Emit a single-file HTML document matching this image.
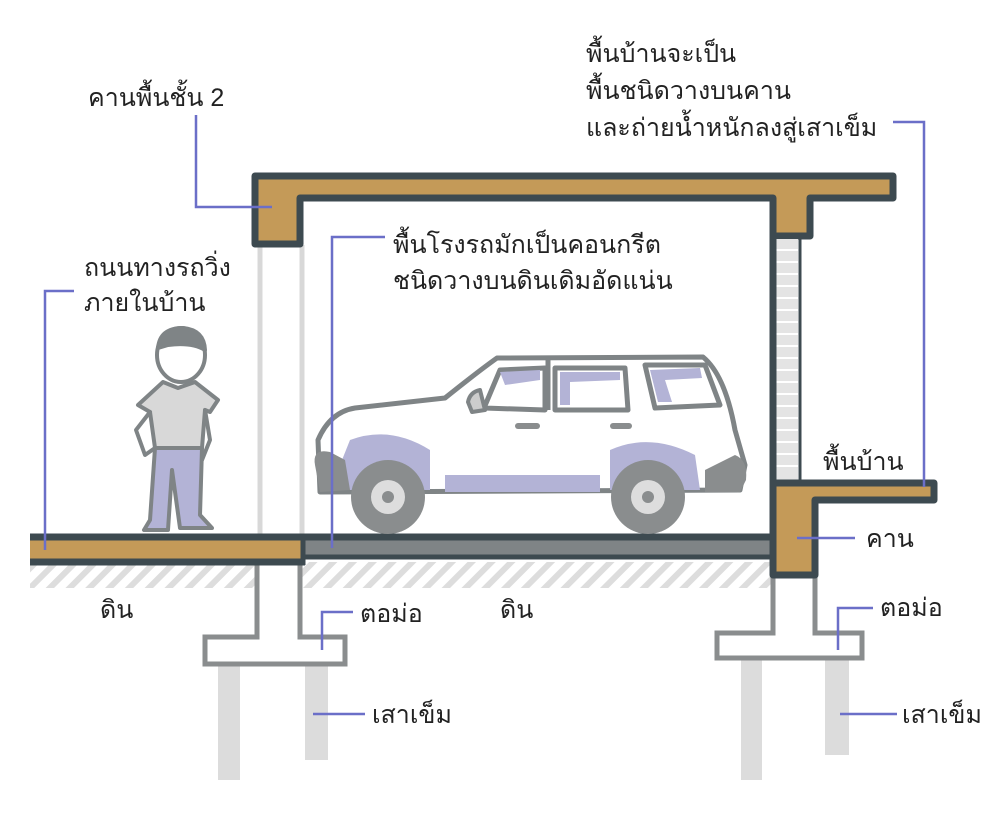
<!DOCTYPE html>
<html><head><meta charset="utf-8"><style>
html,body{margin:0;padding:0;background:#fff}
svg{display:block}
text{font-family:"Liberation Sans","Noto Sans CJK SC",sans-serif;font-size:25px;fill:#222}
</style></head><body>
<svg width="1000" height="820" viewBox="0 0 1000 820">
<defs>
<pattern id="h" width="14" height="14" patternUnits="userSpaceOnUse" patternTransform="rotate(45)">
<rect width="14" height="14" fill="#fff"/><rect width="6" height="14" fill="#ddd"/></pattern>
</defs>
<rect x="30" y="562" width="742" height="26" fill="url(#h)"/>
<g fill="#dcdcdc">
<rect x="218" y="665" width="22" height="115"/><rect x="305" y="665" width="23" height="95"/>
<rect x="741" y="660" width="21" height="120"/><rect x="825" y="660" width="24" height="95"/>
</g>
<g fill="#fff" stroke="#8a8d8e" stroke-width="5">
<path d="M257 562 V637 H205 V664 H345 V637 H300 V562"/>
<path d="M773 575 V633 H717 V658 H862 V633 H815 V575"/>
</g>
<g stroke="#d8d8d8" stroke-width="5"><line x1="260" y1="245" x2="260" y2="535"/><line x1="302" y1="245" x2="302" y2="535"/></g>
<rect x="30" y="537" width="275" height="24" fill="#c49a58"/>
<line x1="30" y1="537" x2="305" y2="537" stroke="#3d4a50" stroke-width="7"/>
<line x1="30" y1="562" x2="305" y2="562" stroke="#3d4a50" stroke-width="7"/>
<rect x="303" y="537" width="470" height="20" fill="#7f8486"/>
<line x1="303" y1="537" x2="773" y2="537" stroke="#3d4a50" stroke-width="7"/>
<line x1="303" y1="557" x2="773" y2="557" stroke="#3d4a50" stroke-width="5"/>
<line x1="303" y1="534" x2="303" y2="565" stroke="#3d4a50" stroke-width="5"/>
<path d="M255 176 H893 V198 H810 V236 H773 V198 H300 V244 H255 Z" fill="#c49a58" stroke="#3d4a50" stroke-width="7" stroke-linejoin="round"/>
<rect x="776" y="239" width="22" height="242" fill="#e4e4e4"/>
<g stroke="#fff" stroke-width="2">
<line x1="776" y1="250" x2="798" y2="250"/><line x1="776" y1="262" x2="798" y2="262"/><line x1="776" y1="274" x2="798" y2="274"/><line x1="776" y1="286" x2="798" y2="286"/><line x1="776" y1="298" x2="798" y2="298"/><line x1="776" y1="310" x2="798" y2="310"/><line x1="776" y1="322" x2="798" y2="322"/><line x1="776" y1="334" x2="798" y2="334"/><line x1="776" y1="346" x2="798" y2="346"/><line x1="776" y1="358" x2="798" y2="358"/><line x1="776" y1="370" x2="798" y2="370"/><line x1="776" y1="382" x2="798" y2="382"/><line x1="776" y1="394" x2="798" y2="394"/><line x1="776" y1="406" x2="798" y2="406"/><line x1="776" y1="418" x2="798" y2="418"/><line x1="776" y1="430" x2="798" y2="430"/><line x1="776" y1="442" x2="798" y2="442"/><line x1="776" y1="454" x2="798" y2="454"/><line x1="776" y1="466" x2="798" y2="466"/>
</g>
<line x1="773" y1="236" x2="773" y2="485" stroke="#3d4a50" stroke-width="7"/>
<line x1="800" y1="236" x2="800" y2="483" stroke="#3d4a50" stroke-width="3"/>
<path d="M773 483 H934 V500 H815 V575 H773 Z" fill="#c49a58" stroke="#3d4a50" stroke-width="7" stroke-linejoin="round"/>
<!-- person -->
<g stroke="#7f8486" stroke-width="4" stroke-linejoin="round" stroke-linecap="round">
<path d="M155 448 L150 520 L144 530 H168 L172 470 L180 528 H212 L200 515 L202 448 Z" fill="#b3b3d6"/>
<path d="M163 382 L178 388 L195 382 L218 400 L210 412 L205 410 L202 448 H155 L150 412 L138 405 Z" fill="#d8d8d8"/>
<path d="M150 412 L136 430 L145 455 L155 448 M205 410 L210 440 L202 460" fill="none"/>
<ellipse cx="181" cy="355" rx="24" ry="27" fill="#fff"/>
<path d="M158 348 Q160 328 183 328 Q204 330 205 350 Q192 342 168 345 Z" fill="#7f8486"/>
</g>
<!-- car -->
<g stroke-linejoin="round">
<path d="M318 440 Q330 412 355 408 L445 398 Q480 370 497 358 L703 357 Q725 375 735 430 L745 465 L740 490 L320 492 Z" fill="#fff" stroke="#7f8486" stroke-width="5"/>
<path d="M350 440 Q390 425 430 450 L430 490 L330 490 Z M445 475 H600 V492 H445 Z M610 450 Q650 432 695 455 L700 490 H610 Z" fill="#b3b3d6"/>
<path d="M484 408 L500 370 L545 368 L545 410 Z M555 368 L625 368 L628 410 L555 410 Z M645 365 L705 365 L720 405 L655 408 Z" fill="#fff" stroke="#7f8486" stroke-width="5"/>
<path d="M500 372 L540 370 L540 380 L505 385 Z M560 372 L620 372 L620 380 L570 382 L570 405 L560 405Z M650 370 L700 368 L702 378 L665 380 L672 402 L658 402 Z" fill="#b3b3d6"/>
<path d="M468 402 Q470 392 480 390 L485 410 L472 412 Z" fill="#ccc" stroke="#7f8486" stroke-width="4"/>
<line x1="548" y1="360" x2="548" y2="410" stroke="#7f8486" stroke-width="5"/>
<path d="M315 465 Q312 448 330 452 L345 460 L350 490 L320 492 Z" fill="#8a8d8e"/>
<path d="M705 470 L735 455 Q748 460 746 480 L740 492 L705 492 Z" fill="#8a8d8e"/>
<rect x="515" y="423" width="25" height="6" rx="3" fill="#8a8d8e"/><rect x="610" y="423" width="22" height="6" rx="3" fill="#8a8d8e"/>
<circle cx="388" cy="497" r="37" fill="#8a8d8e"/><circle cx="388" cy="497" r="17" fill="#ddd"/><circle cx="388" cy="497" r="6" fill="#8a8d8e"/>
<circle cx="648" cy="497" r="37" fill="#8a8d8e"/><circle cx="648" cy="497" r="17" fill="#ddd"/><circle cx="648" cy="497" r="6" fill="#8a8d8e"/>
</g>
<g fill="none" stroke="#6b6fc8" stroke-width="2.5">
<path d="M196 115 V207 H272"/>
<path d="M74 291 H45 V550"/>
<path d="M385 237 H332 V548"/>
<path d="M893 122 H924 V487"/>
<path d="M797 538 H855"/>
<path d="M873 608 H838 V650"/>
<path d="M840 714 H897"/>
<path d="M353 612 H322 V650"/>
<path d="M313 714 H365"/>
</g>
<text x="88" y="106">คานพื้นชั้น 2</text>
<text x="586" y="62">พื้นบ้านจะเป็น</text>
<text x="586" y="99">พื้นชนิดวางบนคาน</text>
<text x="586" y="136">และถ่ายน้ำหนักลงสู่เสาเข็ม</text>
<text x="84" y="276">ถนนทางรถวิ่ง</text>
<text x="84" y="311">ภายในบ้าน</text>
<text x="393" y="253">พื้นโรงรถมักเป็นคอนกรีต</text>
<text x="393" y="289">ชนิดวางบนดินเดิมอัดแน่น</text>
<text x="823" y="470">พื้นบ้าน</text>
<text x="866" y="547">คาน</text>
<text x="880" y="616">ตอม่อ</text>
<text x="902" y="723">เสาเข็ม</text>
<text x="100" y="618">ดิน</text>
<text x="500" y="618">ดิน</text>
<text x="360" y="622">ตอม่อ</text>
<text x="372" y="723">เสาเข็ม</text>
</svg>
</body></html>
